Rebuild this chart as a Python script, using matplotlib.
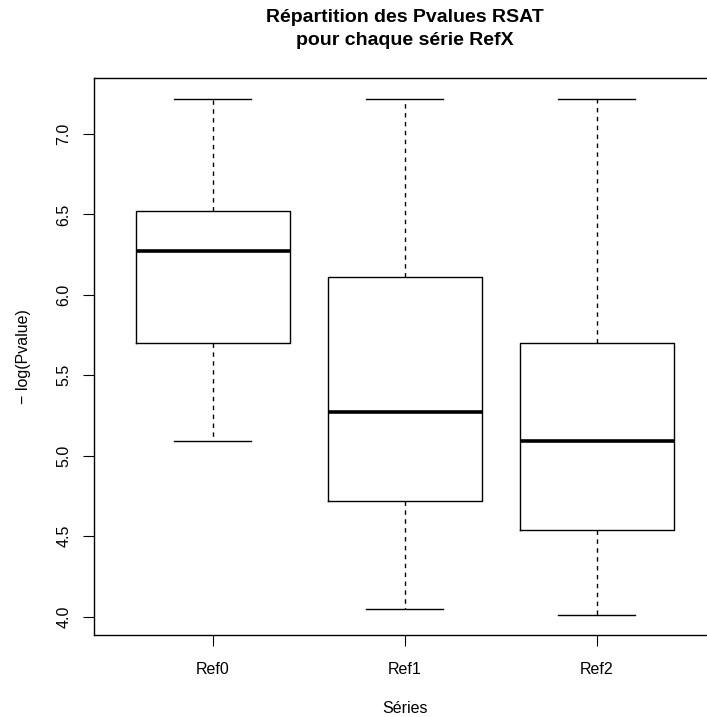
import matplotlib
matplotlib.use("Agg")
import matplotlib.pyplot as plt

# Values
series = ["Ref0", "Ref1", "Ref2"]
whisker_low = [5.09, 4.05, 4.01]
quart1 = [5.70, 4.72, 4.54]
medians = [6.27, 5.27, 5.09]
quart3 = [6.52, 6.11, 5.70]
whisker_high = [7.22, 7.22, 7.22]
y_ticks = [4.0, 4.5, 5.0, 5.5, 6.0, 6.5, 7.0]

plt.rcParams["font.family"] = ["Liberation Sans", "DejaVu Sans"]

fig = plt.figure(figsize=(7.07, 7.17), dpi=100)
ax = fig.add_axes([0.1325, 0.1148, 0.880, 0.7764])

stats = []
for name, lo, q1, m, q3, hi in zip(series, whisker_low, quart1, medians, quart3, whisker_high):
    stats.append({"label": name, "whislo": lo, "q1": q1, "med": m, "q3": q3, "whishi": hi, "fliers": []})

ax.bxp(stats, positions=[1, 2, 3], widths=0.8, capwidths=0.4, showfliers=False,
       boxprops=dict(color="black", linewidth=1.0),
       medianprops=dict(color="black", linewidth=2.6, solid_capstyle="butt"),
       whiskerprops=dict(color="black", linewidth=1.0, linestyle=(0, (3.2, 3.2))),
       capprops=dict(color="black", linewidth=1.0))

ax.set_xlim(0.38, 3.62)
ax.set_ylim(3.888, 7.348)
ax.set_xticks([1, 2, 3])
ax.set_xticklabels(series)
ax.set_yticks(y_ticks)
ax.set_yticklabels([f"{v:.1f}" for v in y_ticks], rotation=90, va="center")

for sp in ax.spines.values():
    sp.set_color("black")
    sp.set_linewidth(1.0)

ax.tick_params(axis="both", length=8, width=0.8, labelsize=11.5, colors="black")
ax.tick_params(axis="y", pad=8)
ax.tick_params(axis="x", pad=12)

ax.set_xlabel("Séries", fontsize=11.5, labelpad=17)
ax.set_ylabel("− log(Pvalue)", fontsize=11.5, labelpad=18)
ax.set_title("Répartition des Pvalues RSAT\npour chaque série RefX",
             fontsize=14, fontweight="bold", pad=24, linespacing=1.45)

fig.savefig("out.png", dpi=100)
